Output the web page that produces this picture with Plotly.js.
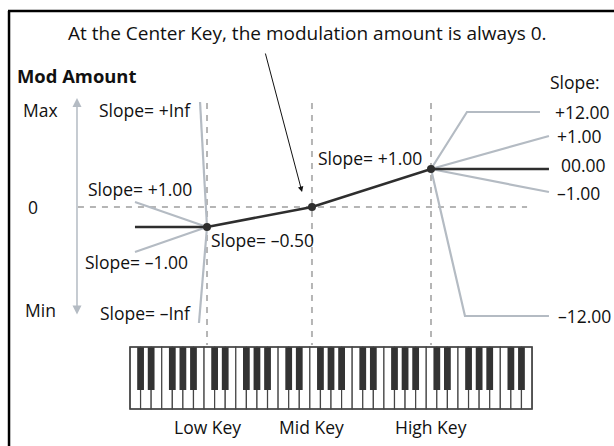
<!DOCTYPE html>
<html>
<head>
<meta charset="utf-8">
<script src="https://cdn.plot.ly/plotly-3.0.1.min.js"></script>
<style>
  html, body { margin: 0; padding: 0; background: #fff; }
  #chart { width: 614px; height: 446px; }
</style>
</head>
<body>
<div id="chart"></div>
<script>
// x is in white-key widths from the left end of the keyboard,
// y is the mod amount (0 = no modulation, Max ~ +109, Min ~ -109)
const whiteKeyCount = 38
const blackKeySteps = [0, 1, 3, 4, 5]   // white keys followed by a black key, per octave

const keyNames = ['Low Key', 'Mid Key', 'High Key']
const keyX = [7.28, 17.2, 28.45]
const keyAmount = [-20, 0, 38]

// the curve used in the example (dark line)
const curveX = [0.47, 7.28, 17.2, 28.45, 39.6]
const curveY = [-20, -20, 0, 38, 38]

// alternative slopes below the low key
const lowSlopes = [
  { label: 'Slope= +Inf', x: 6.62, y: 105 },
  { label: 'Slope= +1.00', x: 0.47, y: 5 },
  { label: 'Slope= \u20131.00', x: 0.47, y: -45 },
  { label: 'Slope= \u2013Inf', x: 6.52, y: -116 }
]
// alternative slopes above the high key
const highSlopeLabels = ['+12.00', '+1.00', '00.00', '\u20131.00', '\u201312.00']
const highSlopeX = [[31.85, 38.75], [39.6], [39.6], [39.6], [31.66, 39.6]]
const highSlopeY = [[95, 95], [71], [38], [15], [-109, -109]]

const zeroLineX = [-4.92, 37.53]
const guideTop = 104
const guideBottom = -138
const axisArrowX = -5.01
const maxAmount = 109
const minAmount = -109

const keyboardTop = -140
const keyboardBottom = -202
const blackKeyBottom = -183

const gray = '#b4bbc3'
const dash = '#b5b5b5'
const dark = '#2e2e2e'
const ink = '#111'
const font = 'Open Sans, Noto Sans, sans-serif'

const traces = []

// keyboard: white keys then black keys, as bars
let whiteX = [], blackX = []
for (let i = 0; i < whiteKeyCount; i++) {
  whiteX.push(i + 0.5)
  if (blackKeySteps.includes(i % 7) && i < whiteKeyCount - 1) blackX.push(i + 1)
}
traces.push({
  type: 'bar', x: whiteX, y: whiteX.map(() => keyboardTop - keyboardBottom),
  base: keyboardBottom, width: 1,
  marker: { color: '#fff', line: { color: '#454545', width: 1.2 } },
  hoverinfo: 'skip'
})
traces.push({
  type: 'bar', x: blackX, y: blackX.map(() => keyboardTop - blackKeyBottom),
  base: blackKeyBottom, width: 0.64,
  marker: { color: '#333', line: { width: 0 } },
  hoverinfo: 'skip'
})

// dashed guides
traces.push({
  type: 'scatter', mode: 'lines', x: zeroLineX, y: [0, 0],
  line: { color: dash, width: 2, dash: '6px,6px' }, hoverinfo: 'skip'
})
keyX.forEach(x => {
  traces.push({
    type: 'scatter', mode: 'lines', x: [x, x], y: [guideTop, guideBottom],
    line: { color: dash, width: 2, dash: '6px,6px' }, hoverinfo: 'skip'
  })
})

// gray slope alternatives
lowSlopes.forEach(s => {
  traces.push({
    type: 'scatter', mode: 'lines', x: [keyX[0], s.x], y: [keyAmount[0], s.y],
    line: { color: gray, width: 2.2 }, hoverinfo: 'skip'
  })
})
highSlopeX.forEach((xs, i) => {
  if (i === 2) return
  traces.push({
    type: 'scatter', mode: 'lines', x: [keyX[2]].concat(xs), y: [keyAmount[2]].concat(highSlopeY[i]),
    line: { color: gray, width: 2.2 }, hoverinfo: 'skip'
  })
})

// main curve and key points
traces.push({
  type: 'scatter', mode: 'lines', x: curveX, y: curveY,
  line: { color: dark, width: 2.6 }, hoverinfo: 'skip'
})
traces.push({
  type: 'scatter', mode: 'markers', x: keyX, y: keyAmount,
  marker: { color: dark, size: 8 }, hoverinfo: 'skip'
})

const txt = (text, x, y, anchor, size) => ({
  text: text, x: x, y: y, xref: 'x', yref: 'y', xanchor: anchor, yanchor: 'middle',
  showarrow: false, borderpad: 0, font: { family: font, size: size || 17.5, color: ink }
})

const annotations = [
  txt('At the Center Key, the modulation amount is always 0.', 16.82, 174, 'center', 19),
  txt('<b>Mod Amount</b>', -10.8, 132, 'left', 18.4),
  txt('Max', -10.25, 97, 'left'),
  txt('0', -9.17, 0, 'center'),
  txt('Min', -10.05, -103, 'left'),
  txt(lowSlopes[0].label, 5.82, 97, 'right'),
  txt(lowSlopes[1].label, 6.0, 18, 'right'),
  txt(lowSlopes[2].label, 5.62, -55, 'right'),
  txt(lowSlopes[3].label, 5.82, -106, 'right'),
  txt('Slope= \u20130.50', 7.52, -33, 'left'),
  txt('Slope= +1.00', 17.72, 49, 'left'),
  txt('Slope:', 39.65, 125, 'left'),
  txt(highSlopeLabels[0], 40.12, 95, 'left'),
  txt(highSlopeLabels[1], 40.3, 71, 'left'),
  txt(highSlopeLabels[2], 40.6, 42, 'left'),
  txt(highSlopeLabels[3], 40.3, 14, 'left'),
  txt(highSlopeLabels[4], 40.4, -109, 'left'),
  // pointer to the center key
  {
    text: '', x: 16.26, y: 15, ax: 12.76, ay: 155, axref: 'x', ayref: 'y', xref: 'x', yref: 'y',
    showarrow: true, arrowhead: 2, arrowsize: 1.1, arrowwidth: 1, arrowcolor: ink, standoff: 0
  },
  // mod amount axis with arrows at both ends
  {
    text: '', x: axisArrowX, y: maxAmount, ax: axisArrowX, ay: minAmount, axref: 'x', ayref: 'y', xref: 'x', yref: 'y',
    showarrow: true, arrowside: 'end+start', arrowhead: 2, arrowsize: 1.2, arrowwidth: 1.5, arrowcolor: gray, standoff: 0, startstandoff: 0
  }
]
keyNames.forEach((name, i) => annotations.push(txt(name, keyX[i], -220, 'center')))

const layout = {
  width: 614, height: 446, autosize: false,
  margin: { l: 0, r: 0, t: 0, b: 0 },
  paper_bgcolor: '#fff', plot_bgcolor: '#fff',
  showlegend: false, barmode: 'overlay',
  xaxis: { range: [-12.287, 45.747], visible: false, fixedrange: true },
  yaxis: { range: [-239, 207], visible: false, fixedrange: true },
  annotations: annotations,
  shapes: [
    { type: 'line', xref: 'paper', yref: 'paper', x0: 0.013, x1: 1, y0: 0.9753, y1: 0.9753, line: { color: '#000', width: 2.5 } },
    { type: 'line', xref: 'paper', yref: 'paper', x0: 0.0147, x1: 0.0147, y0: 0, y1: 0.9753, line: { color: '#000', width: 2.5 } },
    { type: 'rect', xref: 'x', yref: 'y', x0: 0, x1: whiteKeyCount, y0: keyboardBottom, y1: keyboardTop, line: { color: '#454545', width: 1.5 } }
  ]
}

Plotly.newPlot('chart', traces, layout, { staticPlot: true })
</script>
</body>
</html>
